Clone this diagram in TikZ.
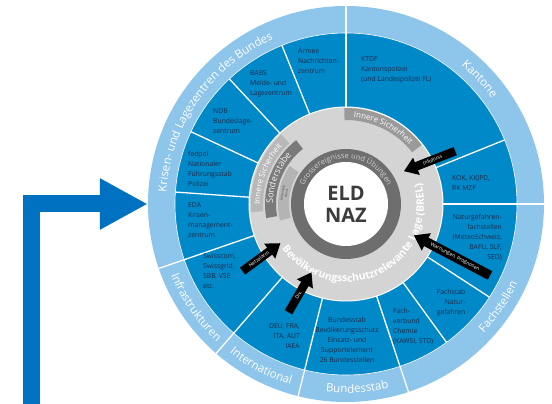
\documentclass[tikz,border=0pt]{standalone}
\usepackage{fontspec}
\setmainfont{Open Sans}
\usetikzlibrary{decorations.text,shapes.arrows,arrows.meta}
\definecolor{dblue}{HTML}{0089C9}
\definecolor{lblue}{HTML}{8EC5EA}
\definecolor{gdisk}{HTML}{D4D4D4}
\definecolor{gring}{HTML}{6E6E6E}
\definecolor{navy}{HTML}{1B2A47}
\definecolor{bigblue}{HTML}{0070C0}
\definecolor{bandA}{HTML}{9A9A9A}
\definecolor{bandB}{HTML}{B8B8B8}
\definecolor{bandC}{HTML}{7A7A7A}
\definecolor{bandD}{HTML}{B4B4B4}
\definecolor{eldgray}{HTML}{3C3C3C}
\definecolor{gtext}{HTML}{D0D0D0}
\begin{document}
\begin{tikzpicture}[x=1pt,y=1pt,
  segtext/.style={font=\fontsize{6.8}{10}\selectfont, text=navy, inner sep=0pt},
  divline/.style={white, line width=1.3pt},
  blkarrow/.style={single arrow, fill=black, text=white, font=\fontsize{5}{5.5}\selectfont,
    inner xsep=2pt, inner ysep=2.2pt, single arrow head extend=5pt,
    single arrow tip angle=70, single arrow head indent=0pt, anchor=center},
  ringtext/.style={decorate, decoration={text along path, text align=center, text={|\color{white}\fontsize{11.5}{12}\selectfont|#1}}},
  curvetext/.style 2 args={decorate, decoration={text along path, text align=center, text={|#1|#2}}}
]
\useasboundingbox (-346,-200) rectangle (206,204);
% rings
\node[circle, fill=lblue, minimum size=396pt, inner sep=0pt] (outer) at (0,0) {};
\fill[dblue] (0,0) circle[radius=171pt];
\draw[white, line width=0.6pt] (0,0) circle[radius=171pt];
\foreach \a in {90,0,-71.6,-104,-131,-161} \draw[divline] (\a:97pt) -- (\a:198pt);
\foreach \a in {22,-33,-54,176,155,133,112} \draw[divline] (\a:97pt) -- (\a:171pt);
\fill[gdisk] (0,0) circle[radius=97pt];
\draw[white, line width=1pt] (0,0) circle[radius=97pt];
% bands in gray disk
\fill[bandA] (91:84pt) arc[start angle=91, end angle=38, radius=84pt] -- (38:96pt) arc[start angle=38, end angle=91, radius=96pt] -- cycle;
\fill[bandB] (185:83pt) arc[start angle=185, end angle=133, radius=83pt] -- (133:95pt) arc[start angle=133, end angle=185, radius=95pt] -- cycle;
\fill[bandC] (190:70pt) arc[start angle=190, end angle=128, radius=70pt] -- (128:81pt) arc[start angle=128, end angle=190, radius=81pt] -- cycle;
\fill[bandD] (194:57pt) arc[start angle=194, end angle=146, radius=57pt] -- (146:68pt) arc[start angle=146, end angle=194, radius=68pt] -- cycle;
\path[curvetext={\color{white}\fontsize{8}{8}\selectfont}{Innere Sicherheit}] (90:87pt) arc[start angle=90, end angle=38, radius=87pt];
\path[curvetext={\color{white}\fontsize{8}{8}\selectfont}{Innere Sicherheit}] (184:86pt) arc[start angle=184, end angle=134, radius=86pt];
\path[curvetext={\color{white!90!gray}\fontsize{9}{9}\selectfont}{Sonderstäbe}] (189:73pt) arc[start angle=189, end angle=129, radius=73pt];
\path[curvetext={\color{eldgray}\fontsize{3}{3}\selectfont}{Krisenstab}] (193:63.5pt) arc[start angle=193, end angle=147, radius=63.5pt];
\path[curvetext={\color{eldgray}\fontsize{3}{3}\selectfont}{Bund}] (193:59.5pt) arc[start angle=193, end angle=147, radius=59.5pt];
\path[curvetext={\color{white}\bfseries\fontsize{10.5}{11}\selectfont}{Bevölkerungsschutzrelevante Lage (BREL)}] (203:78pt) arc[start angle=203, end angle=387, radius=78pt];
% center
\fill[gring] (0,0) circle[radius=55pt];
\path[curvetext={\color{gtext}\fontsize{7.5}{8}\selectfont}{Grossereignisse und Übungen}] (162:45.5pt) arc[start angle=162, end angle=18, radius=45.5pt];
\node[circle, fill=white, minimum size=84pt, inner sep=0pt, font=\fontsize{20}{22}\selectfont\bfseries, text=eldgray, align=center] (eld) at (0,0) {ELD\\NAZ};
% outer ring labels
\path[ringtext={Krisen- und Lagezentren des Bundes}] (195:180pt) arc[start angle=195, end angle=95, radius=180pt];
\path[ringtext={Kantone}] (70:180pt) arc[start angle=70, end angle=16, radius=180pt];
\path[ringtext={Fachstellen}] (-70:189pt) arc[start angle=-70, end angle=2, radius=189pt];
\path[ringtext={Bundesstab}] (-101:189pt) arc[start angle=-101, end angle=-72, radius=189pt];
\path[ringtext={International}] (228:189pt) arc[start angle=228, end angle=257, radius=189pt];
\path[ringtext={Infrastrukturen}] (198:189pt) arc[start angle=198, end angle=231, radius=189pt];
% segment texts
\node[segtext, anchor=west, align=left] (ktdf) at (15,134) {KTDF\\Kantonspolizei\\(und Landespolizei FL)};
\node[segtext, anchor=west, align=left] (armee) at (-48,143) {Armee\\Nachrichten-\\zentrum};
\node[segtext, anchor=west, align=left] (babs) at (-96,120) {BABS\\Melde- und\\Lagezentrum};
\node[segtext, anchor=west, align=left] (ndb) at (-133,83) {NDB\\Bundeslage-\\zentrum};
\node[segtext, anchor=west, align=left] (fedpol) at (-158,35) {fedpol\\Nationaler\\Führungsstab\\Polizei};
\node[segtext, anchor=west, align=left] (eda) at (-158,-16) {EDA\\Krisen-\\management-\\zentrum};
\node[segtext, anchor=west, align=left] (infra) at (-143,-67) {Swisscom,\\Swissgrid,\\SBB, VSE\\etc.};
\node[segtext, anchor=east, align=right] (intl) at (-46,-132) {DEU, FRA,\\ITA, AUT\\IAEA};
\node[segtext, align=center] (bstab) at (1,-136) {Bundesstab\\Bevölkerungsschutz\\Einsatz- und\\Supportelement\\26 Bundesstellen};
\node[segtext, anchor=west, align=left] (chem) at (47,-122) {Fach-\\verbund\\Chemie\\(KAWSI, STD)};
\node[segtext, align=right] (fsng) at (105,-99) {Fachstab\\Natur-\\gefahren};
\node[segtext, anchor=east, align=right] (ngf) at (156,-33) {Naturgefahren-\\fachstellen\\(MeteoSchweiz,\\BAFU, SLF,\\SED)};
\node[segtext, anchor=west, align=left] (kok) at (106,21) {KOK, KKJPD,\\RK MZF};
% black arrows
\node[blkarrow, minimum height=55pt, rotate=21.4, shape border rotate=180] (info) at (86.5,44) {Infofluss};
\node[blkarrow, minimum height=86pt, rotate=-27.8, shape border rotate=180] (warn) at (109,-53) {Warnungen, Prognosen};
\node[blkarrow, minimum height=47pt, rotate=36.4] (netz) at (-87,-55) {Netzalarm};
\node[blkarrow, minimum height=46pt, rotate=60.1] (div) at (-47.5,-91) {Div.};
% big blue arrow
\coordinate (src) at (-314.5,-200);
\draw[bigblue, line width=17pt, -{Triangle[width=48pt, length=48pt]}] (src) |- (outer.west);
\end{tikzpicture}
\end{document}
